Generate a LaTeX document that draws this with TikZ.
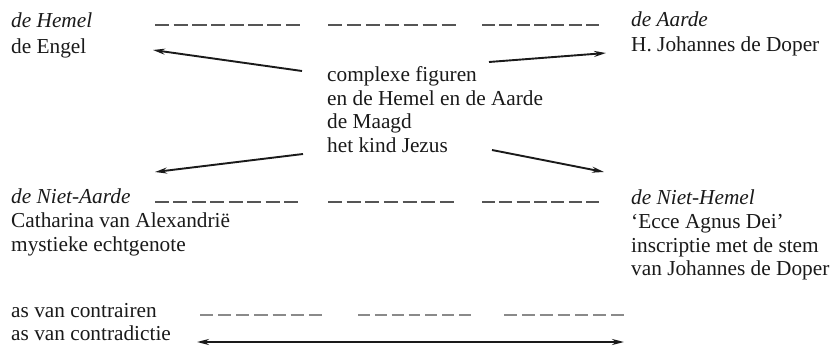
\documentclass[tikz,border=0pt]{standalone}
\usepackage{fontspec}
\setmainfont{Liberation Serif}
\usetikzlibrary{arrows.meta}
\definecolor{ink}{HTML}{1A1A1A}
\definecolor{dashgrey}{HTML}{555555}
\definecolor{lightgrey}{HTML}{8A8A8A}
\tikzset{
  txt/.style={anchor=base west, inner sep=0pt, text=ink, font=\fontsize{21.3}{24}\selectfont},
  itxt/.style={txt, font=\fontsize{21.3}{24}\selectfont\itshape},
  dashline/.style={draw=dashgrey, line width=2pt, dash pattern=on #1 off 4.5pt},
  lightdash/.style={draw=lightgrey, line width=1.6pt, dash pattern=on #1 off 5pt},
  arr/.style={draw=ink, line width=1.9pt, -{Stealth[length=12pt,width=6pt]}},
  darr/.style={draw=ink, line width=2pt, {Stealth[length=12pt,width=6pt]}-{Stealth[length=12pt,width=6pt]}}
}
\begin{document}
\begin{tikzpicture}[x=1pt,y=-1pt]
\useasboundingbox[fill=white] (0,0) rectangle (834,345);
% left top
\node[itxt] (hemel) at (11,28) {de Hemel};
\node[txt] (engel) at (11,53) {de Engel};
% right top
\node[itxt] (aarde) at (631,27) {de Aarde};
\node[txt] (johannes) at (631,52) {H. Johannes de Doper};
% centre
\node[txt] (c1) at (327,81) {complexe figuren};
\node[txt] (c2) at (327,105) {en de Hemel en de Aarde};
\node[txt] (c3) at (327,128) {de Maagd};
\node[txt] (c4) at (327,152) {het kind Jezus};
% left bottom
\node[itxt] (nietaarde) at (11,203) {de Niet-Aarde};
\node[txt] (catharina) at (11,227) {Catharina van Alexandri\"e};
\node[txt] (mystieke) at (11,251) {mystieke echtgenote};
% right bottom
\node[itxt] (niethemel) at (631,204) {de Niet-Hemel};
\node[txt] (ecce) at (631,228) {`Ecce Agnus Dei'};
\node[txt] (inscriptie) at (631,252) {inscriptie met de stem};
\node[txt] (vanjoh) at (631,275) {van Johannes de Doper};
% legend
\node[txt] (contrairen) at (11,317) {as van contrairen};
\node[txt] (contradictie) at (11,340) {as van contradictie};

% dashed axes of contraries
\coordinate (t1a) at (155,25); \coordinate (t1b) at (300,25);
\coordinate (t2a) at (328,25); \coordinate (t2b) at (456,25);
\coordinate (t3a) at (482,25); \coordinate (t3b) at (599,25);
\draw[dashline=14.19pt] (t1a) -- (t1b);
\draw[dashline=14.43pt] (t2a) -- (t2b);
\draw[dashline=12.86pt] (t3a) -- (t3b);
\coordinate (b1a) at (155,202); \coordinate (b1b) at (298,202);
\coordinate (b2a) at (328,202); \coordinate (b2b) at (454,202);
\coordinate (b3a) at (482,202); \coordinate (b3b) at (599,202);
\draw[dashline=13.94pt] (b1a) -- (b1b);
\draw[dashline=14.14pt] (b2a) -- (b2b);
\draw[dashline=12.86pt] (b3a) -- (b3b);
\coordinate (l1a) at (200,315); \coordinate (l1b) at (322,315);
\coordinate (l2a) at (358,315); \coordinate (l2b) at (471,315);
\coordinate (l3a) at (504,315); \coordinate (l3b) at (624,315);
\draw[lightdash=13.14pt] (l1a) -- (l1b);
\draw[lightdash=11.86pt] (l2a) -- (l2b);
\draw[lightdash=12.86pt] (l3a) -- (l3b);

% arrows from the centre
\coordinate (a1s) at (302,71);  \coordinate (a1e) at (153,50);
\coordinate (a2s) at (489,62);  \coordinate (a2e) at (606,53);
\coordinate (a3s) at (303,154); \coordinate (a3e) at (155,172);
\coordinate (a4s) at (492,150); \coordinate (a4e) at (604,172);
\draw[arr] (a1s) -- (a1e);
\draw[arr] (a2s) -- (a2e);
\draw[arr] (a3s) -- (a3e);
\draw[arr] (a4s) -- (a4e);

% contradiction legend arrow
\coordinate (d1) at (197,342); \coordinate (d2) at (624,342);
\draw[darr] (d1) -- (d2);
\end{tikzpicture}
\end{document}
